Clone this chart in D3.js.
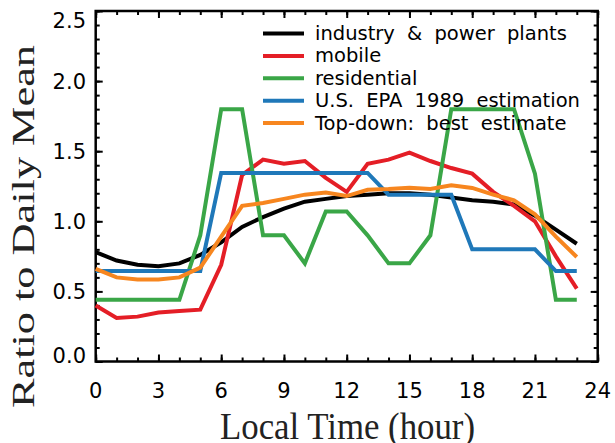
<!DOCTYPE html>
<html>
<head>
<meta charset="utf-8">
<script src="https://cdn.jsdelivr.net/npm/d3@7"></script>
<style>
  body { margin: 0; background: #fff; }
  svg { display: block; }
</style>
</head>
<body>
<script>
// hourly profiles, ratio to daily mean
var hours = [0, 1, 2, 3, 4, 5, 6, 7, 8, 9, 10, 11, 12, 13, 14, 15, 16, 17, 18, 19, 20, 21, 22, 23];
var industry = [0.78, 0.72, 0.69, 0.68, 0.70, 0.76, 0.85, 0.96, 1.03, 1.09, 1.14, 1.16, 1.18, 1.19, 1.20, 1.20, 1.19, 1.17, 1.15, 1.14, 1.12, 1.04, 0.94, 0.84];
var mobile = [0.40, 0.31, 0.32, 0.35, 0.36, 0.37, 0.69, 1.33, 1.44, 1.41, 1.43, 1.31, 1.21, 1.41, 1.44, 1.49, 1.43, 1.38, 1.34, 1.21, 1.11, 1.00, 0.75, 0.52];
var residential = [0.44, 0.44, 0.44, 0.44, 0.44, 0.90, 1.80, 1.80, 0.90, 0.90, 0.70, 1.07, 1.07, 0.90, 0.70, 0.70, 0.90, 1.80, 1.80, 1.80, 1.80, 1.34, 0.44, 0.44];
var epa1989 = [0.645, 0.645, 0.645, 0.645, 0.645, 0.645, 1.345, 1.345, 1.345, 1.345, 1.345, 1.345, 1.345, 1.345, 1.19, 1.19, 1.19, 1.19, 0.80, 0.80, 0.80, 0.80, 0.645, 0.645];
var topDown = [0.66, 0.60, 0.585, 0.585, 0.60, 0.67, 0.89, 1.11, 1.13, 1.16, 1.19, 1.205, 1.18, 1.225, 1.23, 1.24, 1.23, 1.257, 1.238, 1.19, 1.15, 1.05, 0.89, 0.745];

var seriesNames = ['industry & power plants', 'mobile', 'residential', 'U.S. EPA 1989 estimation', 'Top-down: best estimate'];
var seriesColors = ['#000000', '#e41e26', '#3aa647', '#1f78b9', '#f7861f'];
var seriesValues = [industry, mobile, residential, epa1989, topDown];

var xTicks = [0, 3, 6, 9, 12, 15, 18, 21, 24];
var yTicks = [0.0, 0.5, 1.0, 1.5, 2.0, 2.5];

var W = 615, H = 443;
// plot box (window.top is reserved, so prefixed names)
var pLeft = 95.7, pRight = 597.7, pTop = 11, pBottom = 361.5;

var svg = d3.select('body').append('svg')
  .attr('width', W)
  .attr('height', H);

var x = d3.scaleLinear().domain([0, 24]).range([pLeft, pRight]);
var y = d3.scaleLinear().domain([0, 2.5]).range([pBottom, pTop]);

var tickFont = '"DejaVu Sans", sans-serif';

// tick marks on all four sides, pointing inward
function ticks(axisGen, tr, sizeMaj, sizeMin, minorVals, majorVals) {
  svg.append('g').attr('transform', tr)
    .call(axisGen.tickValues(minorVals).tickSize(sizeMin).tickFormat(''))
    .call(function (g) { g.select('.domain').remove(); g.selectAll('line').attr('stroke-width', 2); });
  svg.append('g').attr('transform', tr)
    .call(axisGen.tickValues(majorVals).tickSize(sizeMaj).tickFormat(''))
    .call(function (g) { g.select('.domain').remove(); g.selectAll('line').attr('stroke-width', 2); });
}
var xMinor = d3.range(0, 25, 1), yMinor = d3.range(0, 26, 1).map(function (d) { return d / 10; });
ticks(d3.axisTop(x), 'translate(0,' + pBottom + ')', 7, 4, xMinor, xTicks);
ticks(d3.axisBottom(x), 'translate(0,' + pTop + ')', 7, 4, xMinor, xTicks);
ticks(d3.axisRight(y), 'translate(' + pLeft + ',0)', 7, 4, yMinor, yTicks);
ticks(d3.axisLeft(y), 'translate(' + pRight + ',0)', 7, 4, yMinor, yTicks);

// frame
svg.append('rect')
  .attr('x', pLeft).attr('y', pTop)
  .attr('width', pRight - pLeft).attr('height', pBottom - pTop)
  .attr('fill', 'none').attr('stroke', '#000').attr('stroke-width', 2.5);

// tick labels
svg.append('g').selectAll('text').data(xTicks).join('text')
  .attr('x', function (d) { return x(d); })
  .attr('y', 398)
  .attr('text-anchor', 'middle')
  .attr('font-family', tickFont).attr('font-size', 21)
  .text(function (d) { return d; });

svg.append('g').selectAll('text').data(yTicks).join('text')
  .attr('x', 86)
  .attr('y', function (d) {
    var c = y(d);
    if (d === 2.5) c += 9;
    if (d === 0) c -= 6;
    return c + 7.6;
  })
  .attr('text-anchor', 'end')
  .attr('font-family', tickFont).attr('font-size', 21)
  .text(function (d) { return d.toFixed(1); });

// axis titles
svg.append('text')
  .attr('x', 220).attr('y', 438.5)
  .attr('font-family', '"Liberation Serif", "Times New Roman", serif')
  .attr('font-size', 37.5)
  .attr('fill', '#222')
  .attr('textLength', 255).attr('lengthAdjust', 'spacingAndGlyphs')
  .text('Local Time (hour)');

svg.append('text')
  .attr('transform', 'translate(34,408) rotate(-90)')
  .attr('font-family', '"Liberation Serif", "Times New Roman", serif')
  .attr('font-size', 30.5)
  .attr('fill', '#222')
  .attr('textLength', 363).attr('lengthAdjust', 'spacingAndGlyphs')
  .text('Ratio to Daily Mean');

// series
var line = d3.line()
  .x(function (d, i) { return x(hours[i]); })
  .y(function (d) { return y(d); });

svg.append('g').selectAll('path').data(seriesValues).join('path')
  .attr('d', line)
  .attr('fill', 'none')
  .attr('stroke', function (d, i) { return seriesColors[i]; })
  .attr('stroke-width', 4)
  .attr('stroke-linejoin', 'miter');

// legend
var legend = svg.append('g').selectAll('g').data(seriesNames).join('g')
  .attr('transform', function (d, i) { return 'translate(263,' + (33.5 + i * 22.4) + ')'; });
legend.append('line')
  .attr('x1', 0).attr('x2', 41)
  .attr('stroke', function (d, i) { return seriesColors[i]; })
  .attr('stroke-width', 4);
legend.append('text')
  .attr('x', 52).attr('y', 6.5)
  .attr('font-family', tickFont).attr('font-size', 19.5)
  .attr('word-spacing', 6)
  .text(function (d) { return d; });
</script>
</body>
</html>
